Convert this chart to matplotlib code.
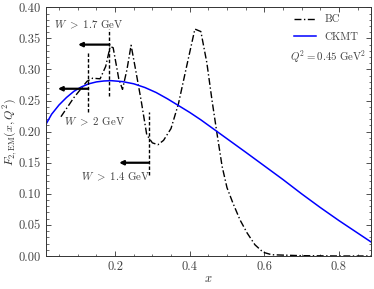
import matplotlib
matplotlib.use("Agg")
import matplotlib.pyplot as plt
from matplotlib.ticker import MultipleLocator, FormatStrFormatter

plt.rcParams['font.family'] = ['cmr10', 'DejaVu Serif']
plt.rcParams['mathtext.fontset'] = 'cm'
plt.rcParams['axes.formatter.use_mathtext'] = True

# BC curve
bc_x = [0.055, 0.09, 0.125, 0.14, 0.16, 0.175, 0.187, 0.195, 0.21, 0.22, 0.232, 0.243,
        0.255, 0.27, 0.285, 0.30, 0.315, 0.33, 0.35, 0.37, 0.39, 0.414, 0.43, 0.446,
        0.46, 0.473, 0.487, 0.50, 0.516, 0.535, 0.554, 0.575, 0.597, 0.62, 0.70, 0.80, 0.885]
bc_y = [0.224, 0.255, 0.281, 0.286, 0.285, 0.305, 0.337, 0.335, 0.285, 0.268, 0.300, 0.339,
        0.300, 0.250, 0.195, 0.182, 0.179, 0.186, 0.205, 0.245, 0.300, 0.365, 0.361, 0.311,
        0.250, 0.198, 0.144, 0.110, 0.085, 0.058, 0.037, 0.018, 0.006, 0.002, 0.0005, 0.0, 0.0]

# CKMT curve
ckmt_x = [0.015, 0.03, 0.05, 0.07, 0.09, 0.11, 0.13, 0.15, 0.17, 0.19, 0.22, 0.25, 0.28,
          0.31, 0.34, 0.37, 0.40, 0.43, 0.46, 0.49, 0.52, 0.55, 0.60, 0.65, 0.70, 0.75,
          0.80, 0.85, 0.885]
ckmt_y = [0.212, 0.228, 0.243, 0.255, 0.265, 0.272, 0.277, 0.280, 0.2815, 0.282, 0.2805,
          0.277, 0.271, 0.263, 0.253, 0.242, 0.231, 0.219, 0.206, 0.193, 0.180, 0.167,
          0.145, 0.123, 0.100, 0.078, 0.057, 0.037, 0.023]

# W cuts
cut_labels = [r'$W\ >\ 1.7$ GeV', r'$W\ >\ 2$ GeV', r'$W\ >\ 1.4$ GeV']
cut_x = [0.185, 0.128, 0.290]
cut_ymin = [0.258, 0.231, 0.131]
cut_ymax = [0.365, 0.329, 0.231]
cut_arrow_y = [0.340, 0.269, 0.150]
cut_arrow_end = [0.101, 0.047, 0.211]
cut_text_x = [0.037, 0.064, 0.110]
cut_text_y = [0.371, 0.216, 0.127]

fig = plt.figure(figsize=(3.74, 2.89), dpi=100)
ax = fig.add_axes([0.123, 0.1142, 0.868, 0.8605])

ax.plot(bc_x, bc_y, color='black', lw=1.0, dashes=[5, 1.8, 1, 1.8], label='BC')
ax.plot(ckmt_x, ckmt_y, color='#0000ff', lw=1.1, label='CKMT')

for lab, cx, y0, y1, ay, ae, tx, ty in zip(cut_labels, cut_x, cut_ymin, cut_ymax,
                                           cut_arrow_y, cut_arrow_end, cut_text_x, cut_text_y):
    ax.plot([cx, cx], [y0, y1], color='black', lw=1.0, ls=(0, (2.5, 1.5)))
    ax.annotate('', xy=(ae, ay), xytext=(cx, ay),
                arrowprops=dict(arrowstyle='-|>', color='black', lw=1.6,
                                mutation_scale=6, shrinkA=0, shrinkB=0))
    ax.text(tx, ty, lab, fontsize=7.8, color='#404040', ha='left', va='center')

ax.set_xlim(0.015, 0.885)
ax.set_ylim(0.0, 0.40)
ax.xaxis.set_major_locator(MultipleLocator(0.2))
ax.xaxis.set_minor_locator(MultipleLocator(0.05))
ax.yaxis.set_major_locator(MultipleLocator(0.05))
ax.yaxis.set_minor_locator(MultipleLocator(0.01))
ax.xaxis.set_major_formatter(FormatStrFormatter('%.1f'))
ax.yaxis.set_major_formatter(FormatStrFormatter('%.2f'))
ax.tick_params(which='both', direction='in', top=True, right=True, labelsize=9,
               colors='#333333', labelcolor='#444444')
ax.tick_params(which='major', length=3.5, width=0.6)
ax.tick_params(which='minor', length=1.8, width=0.5)
for s in ax.spines.values():
    s.set_linewidth(0.7)
    s.set_color('#333333')

ax.set_xlabel(r'$x$', fontsize=9, labelpad=0, color='#333333')
ax.set_ylabel(r'$F_{2,\mathrm{EM}}(x,Q^2)$', fontsize=8.6, labelpad=0, color='#333333')
ax.yaxis.set_label_coords(-0.080, 0.5)

leg = ax.legend(loc='upper right', frameon=False, fontsize=7.8, handlelength=2.0,
                handletextpad=0.8, labelspacing=0.75, borderaxespad=0.3,
                bbox_to_anchor=(0.985, 1.0))
for t in leg.get_texts():
    t.set_color('#404040')
ax.text(0.985, 0.80, r'$Q^2 = 0.45\ \mathrm{GeV}^2$', transform=ax.transAxes,
        ha='right', va='center', fontsize=7.8, color='#404040')

fig.savefig('out.png', dpi=100)
